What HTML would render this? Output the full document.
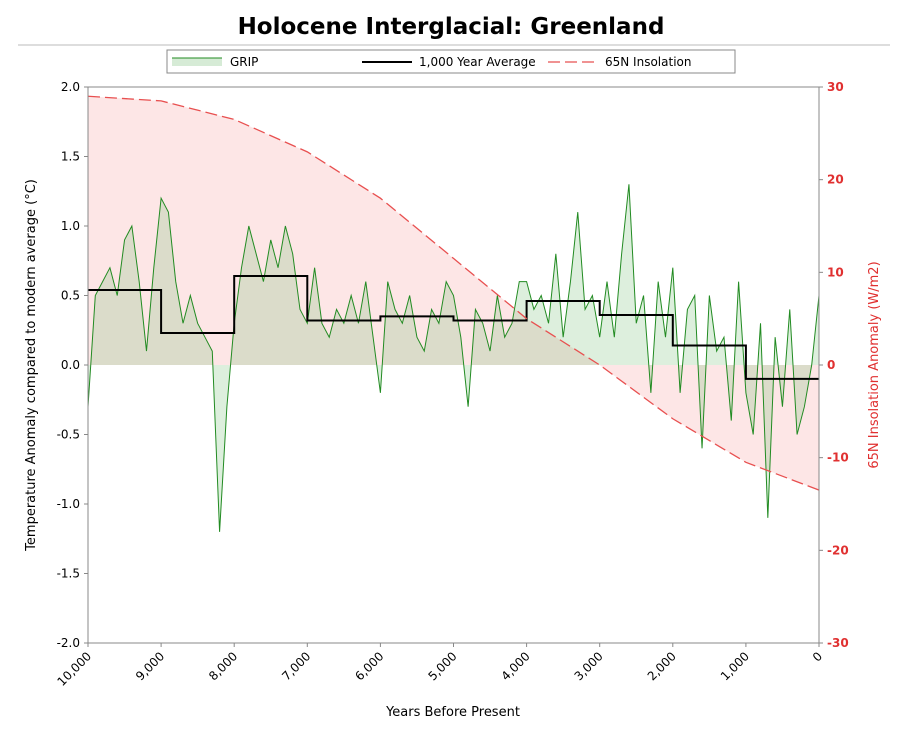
<!DOCTYPE html>
<html><head><meta charset="utf-8"><style>
body{margin:0;background:#fff;font-family:"Liberation Sans","DejaVu Sans",sans-serif}
svg text{font-family:"DejaVu Sans","Liberation Sans",sans-serif}
</style></head><body>
<svg id="c" width="906" height="744" xmlns="http://www.w3.org/2000/svg">
<text x="451" y="34" text-anchor="middle" font-size="23" font-weight="bold">Holocene Interglacial:  Greenland</text>
<line x1="18" y1="45" x2="890" y2="45" stroke="#bbb"/>
<g id="plot"></g>
</svg>
<script>
const gripYears=[];for(let y=10000;y>=0;y-=100)gripYears.push(y);
const gripTemps=[-0.3,0.5,0.6,0.7,0.5,0.9,1.0,0.6,0.1,0.7,1.2,1.1,0.6,0.3,0.5,0.3,0.2,0.1,-1.2,-0.3,0.3,0.7,1.0,0.8,0.6,0.9,0.7,1.0,0.8,0.4,0.3,0.7,0.3,0.2,0.4,0.3,0.5,0.3,0.6,0.2,-0.2,0.6,0.4,0.3,0.5,0.2,0.1,0.4,0.3,0.6,0.5,0.2,-0.3,0.4,0.3,0.1,0.5,0.2,0.3,0.6,0.6,0.4,0.5,0.3,0.8,0.2,0.6,1.1,0.4,0.5,0.2,0.6,0.2,0.8,1.3,0.3,0.5,-0.2,0.6,0.2,0.7,-0.2,0.4,0.5,-0.6,0.5,0.1,0.2,-0.4,0.6,-0.2,-0.5,0.3,-1.1,0.2,-0.3,0.4,-0.5,-0.3,0.0,0.5];
const avgStarts=[10000,9000,8000,7000,6000,5000,4000,3000,2000,1000];
const avgValues=[0.54,0.23,0.64,0.32,0.35,0.32,0.46,0.36,0.14,-0.1];
const insolYears=[10000,9000,8000,7000,6000,5000,4000,3000,2000,1000,0];
const insolValues=[29,28.5,26.5,23,18,11.5,5,0,-5.8,-10.5,-13.5];
const xTicks=[10000,9000,8000,7000,6000,5000,4000,3000,2000,1000,0];
const xTickLabels=["10,000","9,000","8,000","7,000","6,000","5,000","4,000","3,000","2,000","1,000","0"];
const yTicks=[2.0,1.5,1.0,0.5,0.0,-0.5,-1.0,-1.5,-2.0];
const y2Ticks=[30,20,10,0,-10,-20,-30];

const L=88,R=819,T=87,B=643;
const X=v=>L+(10000-v)/10000*(R-L);
const Y=v=>T+(2-v)/4*(B-T);
const Y2=v=>T+(30-v)/60*(B-T);
const NS="http://www.w3.org/2000/svg";
const g=document.getElementById('plot');
function el(t,a,p){const e=document.createElementNS(NS,t);for(const k in a)e.setAttribute(k,a[k]);(p||g).appendChild(e);return e;}

let d=`M${X(insolYears[0])},${Y2(0)}`;insolYears.forEach((y,i)=>d+=`L${X(y)},${Y2(insolValues[i])}`);d+=`L${X(0)},${Y2(0)}Z`;
let e=el('path',{d,fill:'#fde6e6',stroke:'none'});


d=`M${X(gripYears[0])},${Y(0)}`;gripYears.forEach((y,i)=>d+=`L${X(y)},${Y(gripTemps[i])}`);d+=`L${X(0)},${Y(0)}Z`;
e=el('path',{d,fill:'rgba(120,190,120,0.25)',stroke:'none'});


d='';gripYears.forEach((y,i)=>d+=(i?'L':'M')+X(y)+','+Y(gripTemps[i]));
e=el('path',{d,fill:'none',stroke:'#228b22','stroke-width':1});


d='';avgStarts.forEach((s,i)=>{d+=(i?'L':'M')+X(s)+','+Y(avgValues[i])+'L'+X(s-1000)+','+Y(avgValues[i]);});
e=el('path',{d,fill:'none',stroke:'#000','stroke-width':2});


d='';insolYears.forEach((y,i)=>d+=(i?'L':'M')+X(y)+','+Y2(insolValues[i]));
e=el('path',{d,fill:'none',stroke:'#e85050','stroke-width':1.3,'stroke-dasharray':'12,5'});


e=el('rect',{x:L,y:T,width:R-L,height:B-T,fill:'none',stroke:'#888'});


xTicks.forEach((v,i)=>{
 el('line',{x1:X(v),y1:B,x2:X(v),y2:B+4,stroke:'#888'});
 const t=el('text',{x:X(v)+4,y:B+14,'font-size':12,'text-anchor':'end',transform:`rotate(-45 ${X(v)+4} ${B+14})`});t.textContent=xTickLabels[i];
 
 
});
yTicks.forEach(v=>{
 el('line',{x1:L-4,y1:Y(v),x2:L,y2:Y(v),stroke:'#888'});
 const t=el('text',{x:L-8,y:Y(v)+4,'font-size':12,'text-anchor':'end'});t.textContent=v.toFixed(1);
 
 
});
y2Ticks.forEach(v=>{
 el('line',{x1:R,y1:Y2(v),x2:R+4,y2:Y2(v),stroke:'#888'});
 const t=el('text',{x:R+8,y:Y2(v)+4,'font-size':12,'font-weight':'bold',fill:'#e03030'});t.textContent=v;
 
 
});
let t=el('text',{x:453,y:716,'font-size':13,'text-anchor':'middle'});t.textContent='Years Before Present';


t=el('text',{x:35,y:365,'font-size':13,'text-anchor':'middle',transform:'rotate(-90 35 365)'});t.textContent='Temperature Anomaly compared to modern average (°C)';


t=el('text',{x:878,y:365,'font-size':13,'text-anchor':'middle',fill:'#e03030',transform:'rotate(-90 878 365)'});t.textContent='65N Insolation Anomaly (W/m2)';


const lg=el('g',{});


el('rect',{x:167,y:50,width:568,height:23,fill:'#fff',stroke:'#888'},lg);
el('rect',{x:172,y:58,width:50,height:8,fill:'rgba(120,190,120,0.3)'},lg);
el('line',{x1:172,y1:58,x2:222,y2:58,stroke:'#228b22'},lg);
t=el('text',{x:230,y:66,'font-size':12},lg);t.textContent='GRIP';


el('line',{x1:362,y1:62,x2:412,y2:62,stroke:'#000','stroke-width':2},lg);
t=el('text',{x:419,y:66,'font-size':12},lg);t.textContent='1,000 Year Average';


el('line',{x1:548,y1:62,x2:598,y2:62,stroke:'#e85050','stroke-width':1.3,'stroke-dasharray':'12,5'},lg);
t=el('text',{x:605,y:66,'font-size':12},lg);t.textContent='65N Insolation';


</script>
</body></html>
